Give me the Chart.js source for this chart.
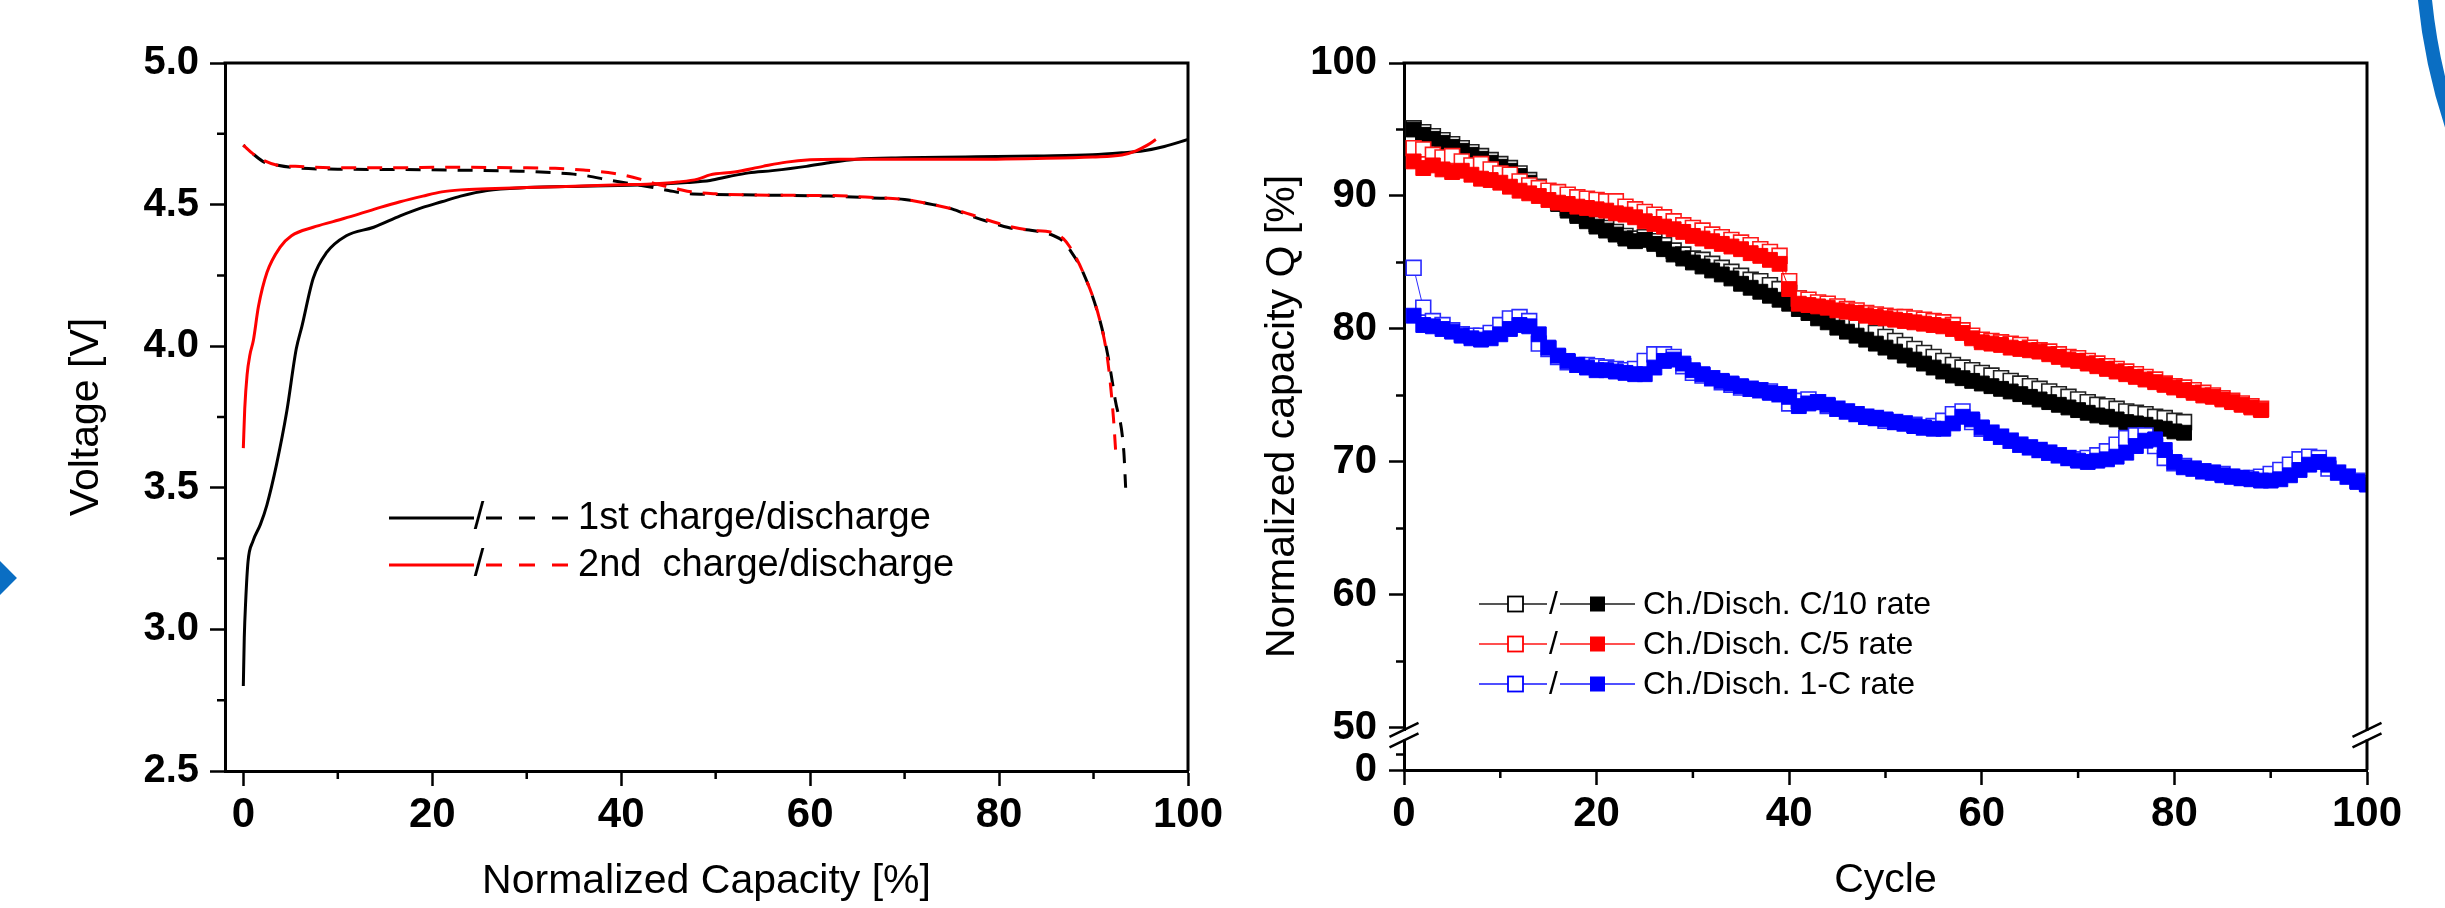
<!DOCTYPE html>
<html>
<head>
<meta charset="utf-8">
<script src="https://cdn.jsdelivr.net/npm/chart.js@4.4.1/dist/chart.umd.min.js"></script>
<style>
html,body{margin:0;padding:0;background:#fff;width:2445px;height:908px;overflow:hidden;position:relative;}
#cL{position:absolute;left:0;top:0;width:1240px;height:908px;}
#cR{position:absolute;left:1240px;top:0;width:1205px;height:908px;}
.diamond{position:absolute;left:-41px;top:554px;width:48px;height:48px;background:#0a6ec3;transform:rotate(45deg);}
.arc{position:absolute;left:2415px;top:-660px;width:1200px;height:1200px;border-radius:50%;border:14px solid #0a6ec3;box-sizing:border-box;}
</style>
</head>
<body>
<div class="diamond"></div>
<div class="arc"></div>
<canvas id="cL" width="1240" height="908"></canvas>
<canvas id="cR" width="1205" height="908"></canvas>
<script>
// ---------------- LEFT CHART DATA (Voltage vs normalized capacity) ----------------
const charge1X = [0, 0.1, 0.25, 0.5, 1.0, 1.8, 2.5, 3.5, 4.6, 5.6, 6.2, 7.4, 8.8, 10.9, 13.8, 16.6, 19, 21, 23, 25.8, 30, 35.9, 42.7, 47, 49.4, 51.5, 53.5, 56, 59.6, 62, 64.9, 70, 76.4, 84, 89.9, 93, 95.3, 97.5, 100];
const charge1V = [2.80, 2.97, 3.10, 3.24, 3.31, 3.37, 3.44, 3.58, 3.77, 3.99, 4.07, 4.24, 4.33, 4.39, 4.42, 4.46, 4.49, 4.51, 4.53, 4.55, 4.56, 4.565, 4.57, 4.578, 4.585, 4.60, 4.612, 4.62, 4.635, 4.648, 4.66, 4.665, 4.668, 4.672, 4.676, 4.683, 4.69, 4.705, 4.73];
const discharge1X = [0, 1, 2.2, 3.5, 5.5, 10, 15.6, 22, 29.2, 33, 35.9, 39, 42.6, 45, 46.7, 50, 56.2, 62, 66.3, 70, 73, 75, 77, 79.8, 81.5, 83.2, 85.8, 86.8, 87.5, 88.9, 90.6, 91.5, 92.3, 93.2, 93.4];
const discharge1V = [4.71, 4.68, 4.65, 4.64, 4.63, 4.625, 4.624, 4.622, 4.618, 4.612, 4.604, 4.585, 4.565, 4.55, 4.54, 4.536, 4.533, 4.53, 4.524, 4.518, 4.50, 4.485, 4.46, 4.43, 4.415, 4.41, 4.39, 4.37, 4.34, 4.26, 4.10, 3.97, 3.81, 3.63, 3.50];
const charge2X = [0, 0.15, 0.4, 0.7, 1.06, 1.6, 2.5, 3.9, 5.1, 7.4, 9.5, 11.6, 14.5, 16.6, 19, 21, 23, 25.8, 30, 35, 40, 42.7, 46, 48.1, 49.4, 52, 55, 57.5, 60, 63, 70, 76.4, 84, 89.9, 93, 94.5, 95.7, 96.6];
const charge2V = [3.64, 3.78, 3.90, 3.97, 4.02, 4.14, 4.26, 4.35, 4.39, 4.42, 4.44, 4.46, 4.49, 4.51, 4.53, 4.545, 4.552, 4.556, 4.56, 4.565, 4.57, 4.572, 4.58, 4.59, 4.605, 4.615, 4.635, 4.65, 4.658, 4.66, 4.66, 4.66, 4.663, 4.668, 4.675, 4.69, 4.71, 4.73];
const discharge2X = [0, 1, 2.2, 3.5, 5.5, 10, 15.6, 22, 29.2, 33, 36, 39.3, 42, 44, 46, 47.4, 50, 56.2, 62, 66.3, 70, 73, 75, 77, 79.8, 81.5, 83.2, 85.8, 86.8, 87.5, 88.9, 90.6, 91.5, 92.1, 92.4];
const discharge2V = [4.71, 4.68, 4.655, 4.64, 4.635, 4.63, 4.63, 4.632, 4.63, 4.628, 4.622, 4.61, 4.59, 4.57, 4.555, 4.545, 4.538, 4.533, 4.532, 4.526, 4.518, 4.50, 4.485, 4.465, 4.435, 4.42, 4.41, 4.40, 4.38, 4.35, 4.26, 4.10, 3.95, 3.75, 3.60];

const leftXTicks = [0, 20, 40, 60, 80, 100];
const leftXMinor = [10, 30, 50, 70, 90];
const leftYTicks = [2.5, 3.0, 3.5, 4.0, 4.5, 5.0];
const leftYTickLabels = ['2.5', '3.0', '3.5', '4.0', '4.5', '5.0'];
const leftYMinor = [2.75, 3.25, 3.75, 4.25, 4.75];
const leftLegendLabels = ['1st charge/discharge', '2nd  charge/discharge'];
const leftLegendColors = ['#000000', '#ff0000'];

// ---------------- RIGHT CHART DATA (capacity vs cycle), cycle 1..n ----------------
const c10Charge = [95.1, 94.8, 94.5, 94.2, 93.9, 93.6, 93.3, 93.0, 92.7, 92.4,
  92.1, 91.7, 91.2, 90.7, 90.2, 89.6, 89.1, 88.7, 88.3, 87.9,
  87.6, 87.3, 87.0, 86.8, 86.9, 86.6, 86.3, 85.9, 85.6, 85.3,
  85.2, 84.9, 84.6, 84.3, 84.0, 83.7, 83.6, 83.3, 83.0, 82.7,
  82.3, 82.0, 81.6, 81.3, 80.9, 80.6, 80.3, 80.0, 79.7, 79.4,
  79.1, 78.8, 78.5, 78.2, 77.9, 77.6, 77.3, 77.1, 76.9, 76.7,
  76.5, 76.3, 76.1, 75.9, 75.7, 75.5, 75.3, 75.1, 74.9, 74.7,
  74.5, 74.3, 74.2, 74.0, 73.8, 73.7, 73.6, 73.4, 73.3, 73.1,
  73.0];
const c10Disch = [95.0, 94.6, 94.3, 94.0, 93.7, 93.4, 93.1, 92.8, 92.5, 92.2,
  91.9, 91.5, 91.0, 90.5, 90.0, 89.4, 88.9, 88.5, 88.1, 87.7,
  87.4, 87.1, 86.8, 86.6, 86.7, 86.4, 86.0, 85.6, 85.3, 85.0,
  84.7, 84.4, 84.1, 83.8, 83.4, 83.1, 82.8, 82.5, 82.2, 81.9,
  81.5, 81.2, 80.8, 80.5, 80.1, 79.8, 79.5, 79.2, 78.9, 78.6,
  78.3, 78.0, 77.7, 77.4, 77.1, 76.8, 76.5, 76.3, 76.1, 75.9,
  75.7, 75.5, 75.3, 75.1, 74.9, 74.7, 74.5, 74.3, 74.1, 73.9,
  73.7, 73.5, 73.4, 73.2, 73.0, 72.9, 72.8, 72.6, 72.5, 72.3,
  72.2];
const c5Charge = [93.6, 93.5, 93.1, 92.9, 93.0, 92.6, 92.3, 92.4, 92.0, 91.7,
  91.6, 91.1, 90.8, 90.6, 90.4, 90.3, 90.1, 89.9, 89.8, 89.7,
  89.6, 89.6, 89.2, 89.0, 88.8, 88.6, 88.4, 88.1, 87.8, 87.6,
  87.4, 87.1, 86.9, 86.7, 86.5, 86.3, 86.0, 85.8, 85.5, 83.6,
  82.3, 82.2, 82.0, 81.9, 81.7, 81.5, 81.4, 81.2, 81.1, 81.0,
  80.9, 80.9, 80.8, 80.7, 80.6, 80.5, 80.3, 79.9, 79.5, 79.2,
  79.1, 79.0, 78.9, 78.8, 78.6, 78.4, 78.3, 78.1, 77.9, 77.8,
  77.6, 77.4, 77.2, 77.0, 76.8, 76.6, 76.4, 76.2, 75.9, 75.7,
  75.6, 75.4, 75.2, 75.0, 74.8, 74.6, 74.4, 74.2, 74.0];
const c5Disch = [92.6, 92.1, 92.3, 92.0, 91.8, 91.9, 91.6, 91.3, 91.2, 91.0,
  90.7, 90.4, 90.2, 90.0, 89.7, 89.5, 89.4, 89.2, 89.1, 89.0,
  88.9, 88.7, 88.6, 88.4, 88.1, 87.9, 87.7, 87.5, 87.3, 87.0,
  86.8, 86.6, 86.4, 86.2, 86.0, 85.7, 85.5, 85.2, 84.9, 83.0,
  81.9, 81.8, 81.7, 81.6, 81.4, 81.3, 81.2, 81.0, 80.9, 80.8,
  80.7, 80.6, 80.5, 80.4, 80.3, 80.2, 80.0, 79.7, 79.3, 79.0,
  78.9, 78.8, 78.6, 78.5, 78.4, 78.3, 78.1, 77.9, 77.7, 77.6,
  77.4, 77.2, 77.0, 76.8, 76.6, 76.4, 76.2, 76.0, 75.8, 75.6,
  75.4, 75.2, 75.0, 74.9, 74.7, 74.5, 74.3, 74.1, 73.9];
const c1Charge = [84.6, 81.6, 80.6, 80.3, 79.9, 79.6, 79.5, 79.5, 79.7, 80.3,
  80.8, 80.9, 80.6, 78.9, 78.5, 77.9, 77.5, 77.3, 77.3, 77.2,
  77.1, 77.0, 76.9, 77.0, 77.6, 78.1, 78.1, 77.9, 77.2, 76.7,
  76.5, 76.3, 76.0, 75.8, 75.6, 75.5, 75.4, 75.3, 75.1, 74.4,
  74.6, 74.7, 74.5, 74.2, 74.0, 73.8, 73.6, 73.4, 73.3, 73.1,
  73.0, 72.9, 72.8, 72.6, 72.7, 73.1, 73.6, 73.8, 73.0, 72.5,
  72.2, 71.9, 71.6, 71.3, 71.1, 70.9, 70.7, 70.5, 70.3, 70.2,
  70.3, 70.5, 70.8, 71.3, 71.8, 72.0, 72.0, 71.2, 70.3, 69.9,
  69.7, 69.5, 69.3, 69.2, 69.1, 68.9, 68.8, 68.8, 68.9, 69.1,
  69.4, 69.8, 70.2, 70.4, 70.3, 69.5, 69.2, 68.9, 68.6, 68.4];
const c1Disch = [81.0, 80.3, 80.2, 80.0, 79.8, 79.5, 79.3, 79.2, 79.3, 79.6,
  80.0, 80.3, 80.2, 79.6, 78.6, 78.0, 77.6, 77.3, 77.1, 76.9,
  76.9, 76.8, 76.7, 76.6, 76.6, 77.1, 77.6, 77.7, 77.4, 76.9,
  76.6, 76.3, 76.1, 75.9, 75.7, 75.5, 75.4, 75.2, 75.1, 74.9,
  74.2, 74.4, 74.5, 74.3, 74.0, 73.8, 73.6, 73.4, 73.3, 73.2,
  73.0, 72.9, 72.7, 72.6, 72.5, 72.5, 72.9, 73.4, 73.2, 72.6,
  72.2, 71.9, 71.6, 71.3, 71.1, 70.9, 70.7, 70.5, 70.3, 70.1,
  70.0, 70.1, 70.2, 70.4, 70.7, 71.2, 71.6, 71.7, 70.9, 70.0,
  69.6, 69.5, 69.3, 69.2, 69.0, 68.9, 68.8, 68.7, 68.6, 68.6,
  68.7, 69.0, 69.4, 69.8, 70.0, 69.8, 69.2, 68.9, 68.5, 68.3];

const rightXTicks = [0, 20, 40, 60, 80, 100];
const rightXMinor = [10, 30, 50, 70, 90];
const rightYMin = 46.84;           // where the broken axis shows "0"
const rightYTicks = [46.84, 50, 60, 70, 80, 90, 100];
const rightYTickLabels = ['0', '50', '60', '70', '80', '90', '100'];
const rightYMinor = [48, 55, 65, 75, 85, 95];
const rightLegendLabels = ['Ch./Disch. C/10 rate', 'Ch./Disch. C/5 rate', 'Ch./Disch. 1-C rate'];
const rightLegendColors = ['#000000', '#ff0000', '#0000ff'];
const rightLegendLineColors = ['#555555', '#ff5050', '#5050ff'];

// ---------------- helpers ----------------
const FONT = "'Liberation Sans', Arial, Helvetica, sans-serif";
const pts = (xs, ys) => xs.map((x, i) => ({x: x, y: ys[i]}));
const cyc = (ys) => ys.map((y, i) => ({x: i + 1, y: y}));

function decorPlugin(cfg) {
  return {
    id: 'decor',
    afterDatasetsDraw(chart) {
      const ctx = chart.ctx, a = chart.chartArea;
      const xs = chart.scales.x, ys = chart.scales.y;
      ctx.save();
      ctx.strokeStyle = '#000';
      ctx.lineWidth = 3;
      ctx.beginPath();
      ctx.moveTo(a.left - 1.5, a.top);
      ctx.lineTo(a.right, a.top);
      ctx.lineTo(a.right, a.bottom);
      ctx.stroke();
      ctx.lineWidth = 2.5;
      ctx.beginPath();
      cfg.minorX.forEach(v => { const p = xs.getPixelForValue(v); ctx.moveTo(p, a.bottom); ctx.lineTo(p, a.bottom + 8); });
      cfg.minorY.forEach(v => { const p = ys.getPixelForValue(v); ctx.moveTo(a.left, p); ctx.lineTo(a.left - 8, p); });
      ctx.stroke();
      if (cfg.breakAt !== undefined) {
        const p50 = ys.getPixelForValue(cfg.breakAt);
        [a.left, a.right].forEach(px => {
          ctx.fillStyle = '#fff';
          ctx.fillRect(px - 3, p50 + 3, 6, 8.5);
          ctx.strokeStyle = '#000';
          ctx.lineWidth = 2.5;
          ctx.beginPath();
          [p50 + 2, p50 + 12.5].forEach(py => {
            ctx.moveTo(px - 14.5, py + 7);
            ctx.lineTo(px + 14.5, py - 7);
          });
          ctx.stroke();
        });
      }
      ctx.restore();
    },
    afterDraw(chart) {
      const ctx = chart.ctx;
      ctx.save();
      cfg.legend(ctx);
      ctx.restore();
    }
  };
}

function drawLeftLegend(ctx) {
  const rowsY = [518, 565];
  leftLegendLabels.forEach((txt, i) => {
    const y = rowsY[i];
    ctx.strokeStyle = leftLegendColors[i];
    ctx.lineWidth = 3;
    ctx.setLineDash([]);
    ctx.beginPath(); ctx.moveTo(389, y); ctx.lineTo(474, y); ctx.stroke();
    ctx.setLineDash([16, 17]);
    ctx.beginPath(); ctx.moveTo(486, y); ctx.lineTo(572, y); ctx.stroke();
    ctx.setLineDash([]);
    ctx.fillStyle = '#000';
    ctx.font = '38px ' + FONT;
    ctx.textBaseline = 'middle';
    ctx.textAlign = 'center';
    ctx.fillText('/', 479, y + 1);
    ctx.textAlign = 'left';
    ctx.fillText(txt, 578, y + 1);
  });
}

function drawRightLegend(ctx) {
  const rowsY = [604, 644, 684];
  const off = 1240;
  rightLegendLabels.forEach((txt, i) => {
    const y = rowsY[i];
    ctx.strokeStyle = rightLegendLineColors[i];
    ctx.lineWidth = 2;
    ctx.beginPath();
    ctx.moveTo(1479 - off, y); ctx.lineTo(1547 - off, y);
    ctx.moveTo(1560 - off, y); ctx.lineTo(1635 - off, y);
    ctx.stroke();
    // open square
    ctx.fillStyle = '#fff';
    ctx.fillRect(1508 - off, y - 7.5, 15, 15);
    ctx.strokeStyle = rightLegendColors[i];
    ctx.lineWidth = 1.8;
    ctx.strokeRect(1508 - off, y - 7.5, 15, 15);
    // filled square
    ctx.fillStyle = rightLegendColors[i];
    ctx.fillRect(1590 - off, y - 7.5, 15, 15);
    ctx.fillStyle = '#000';
    ctx.font = '32px ' + FONT;
    ctx.textBaseline = 'middle';
    ctx.textAlign = 'center';
    ctx.fillText('/', 1553.5 - off, y + 1);
    ctx.textAlign = 'left';
    ctx.fillText(txt, 1643 - off, y + 1);
  });
}

function axisCommon(extra) {
  return Object.assign({
    type: 'linear',
    grid: {display: true, drawOnChartArea: false, drawTicks: true, tickLength: 15, tickWidth: 2.5, tickColor: '#000'},
    border: {display: true, color: '#000', width: 3}
  }, extra);
}

// ---------------- LEFT CHART ----------------
new Chart(document.getElementById('cL'), {
  type: 'line',
  data: {
    datasets: [
      {label: '1st charge', data: pts(charge1X, charge1V), borderColor: '#000', borderWidth: 3, pointRadius: 0, cubicInterpolationMode: 'monotone', order: 4},
      {label: '1st discharge', data: pts(discharge1X, discharge1V), borderColor: '#000', borderWidth: 3, borderDash: [15, 11], borderDashOffset: 13, pointRadius: 0, cubicInterpolationMode: 'monotone', order: 3},
      {label: '2nd charge', data: pts(charge2X, charge2V), borderColor: '#ff0000', borderWidth: 3, pointRadius: 0, cubicInterpolationMode: 'monotone', order: 2},
      {label: '2nd discharge', data: pts(discharge2X, discharge2V), borderColor: '#ff0000', borderWidth: 3, borderDash: [15, 11], pointRadius: 0, cubicInterpolationMode: 'monotone', order: 1}
    ]
  },
  options: {
    responsive: false, animation: false, events: [],
    layout: {padding: {left: 0, top: 63, right: 1240 - 1188, bottom: 0}},
    plugins: {legend: {display: false}, tooltip: {enabled: false}},
    scales: {
      x: axisCommon({
        min: -1.94, max: 100,
        afterBuildTicks: s => { s.ticks = leftXTicks.map(v => ({value: v})); },
        afterFit: s => { s.height = 908 - 771; },
        ticks: {autoSkip: false, maxRotation: 0, padding: 4, color: '#000', font: {family: FONT, size: 42, weight: 'bold'}, callback: (v) => String(v)},
        title: {display: true, text: 'Normalized Capacity [%]', color: '#000', font: {family: FONT, size: 41}, padding: {top: 0, bottom: 2}}
      }),
      y: axisCommon({
        min: 2.5, max: 5.0,
        afterBuildTicks: s => { s.ticks = leftYTicks.map(v => ({value: v})); },
        afterFit: s => { s.width = 225; },
        ticks: {autoSkip: false, padding: 11, color: '#000', font: {family: FONT, size: 40, weight: 'bold'}, callback: (v, i) => leftYTickLabels[i]},
        title: {display: true, text: 'Voltage [V]', color: '#000', font: {family: FONT, size: 41}, padding: {top: 62, bottom: 0}}
      })
    }
  },
  plugins: [decorPlugin({minorX: leftXMinor, minorY: leftYMinor, legend: drawLeftLegend})]
});

// ---------------- RIGHT CHART ----------------
function sq(label, data, color, filled, order) {
  return {
    label: label, data: cyc(data), order: order,
    borderColor: color, borderWidth: 1, showLine: true,
    pointStyle: 'rect', pointRadius: 10.5,
    pointBackgroundColor: filled ? color : '#ffffff',
    pointBorderColor: color, pointBorderWidth: filled ? 1 : 1.6
  };
}
new Chart(document.getElementById('cR'), {
  type: 'line',
  data: {
    datasets: [
      sq('Ch. C/10', c10Charge, '#222222', false, 6),
      sq('Disch. C/10', c10Disch, '#000000', true, 5),
      sq('Ch. C/5', c5Charge, '#ff1a1a', false, 4),
      sq('Disch. C/5', c5Disch, '#ff0000', true, 3),
      sq('Ch. 1-C', c1Charge, '#2a2aff', false, 2),
      sq('Disch. 1-C', c1Disch, '#0000ff', true, 1)
    ]
  },
  options: {
    responsive: false, animation: false, events: [],
    layout: {padding: {left: 0, top: 63, right: 1205 - (2367 - 1240), bottom: 0}},
    plugins: {legend: {display: false}, tooltip: {enabled: false}},
    scales: {
      x: axisCommon({
        min: 0, max: 100,
        afterBuildTicks: s => { s.ticks = rightXTicks.map(v => ({value: v})); },
        afterFit: s => { s.height = 908 - 770; },
        ticks: {autoSkip: false, maxRotation: 0, padding: 4, color: '#000', font: {family: FONT, size: 42, weight: 'bold'}, callback: (v) => String(v)},
        title: {display: true, text: 'Cycle', color: '#000', font: {family: FONT, size: 41}, padding: {top: 0, bottom: 3}}
      }),
      y: axisCommon({
        min: rightYMin, max: 100,
        afterBuildTicks: s => { s.ticks = rightYTicks.map(v => ({value: v})); },
        afterFit: s => { s.width = 1404 - 1240; },
        ticks: {autoSkip: false, padding: 12, color: '#000', font: {family: FONT, size: 40, weight: 'bold'}, callback: (v, i) => rightYTickLabels[i]},
        title: {display: true, text: 'Normalized capacity Q [%]', color: '#000', font: {family: FONT, size: 41}, padding: {top: 18, bottom: 0}}
      })
    }
  },
  plugins: [decorPlugin({minorX: rightXMinor, minorY: rightYMinor, breakAt: 50, legend: drawRightLegend})]
});
</script>
</body>
</html>
